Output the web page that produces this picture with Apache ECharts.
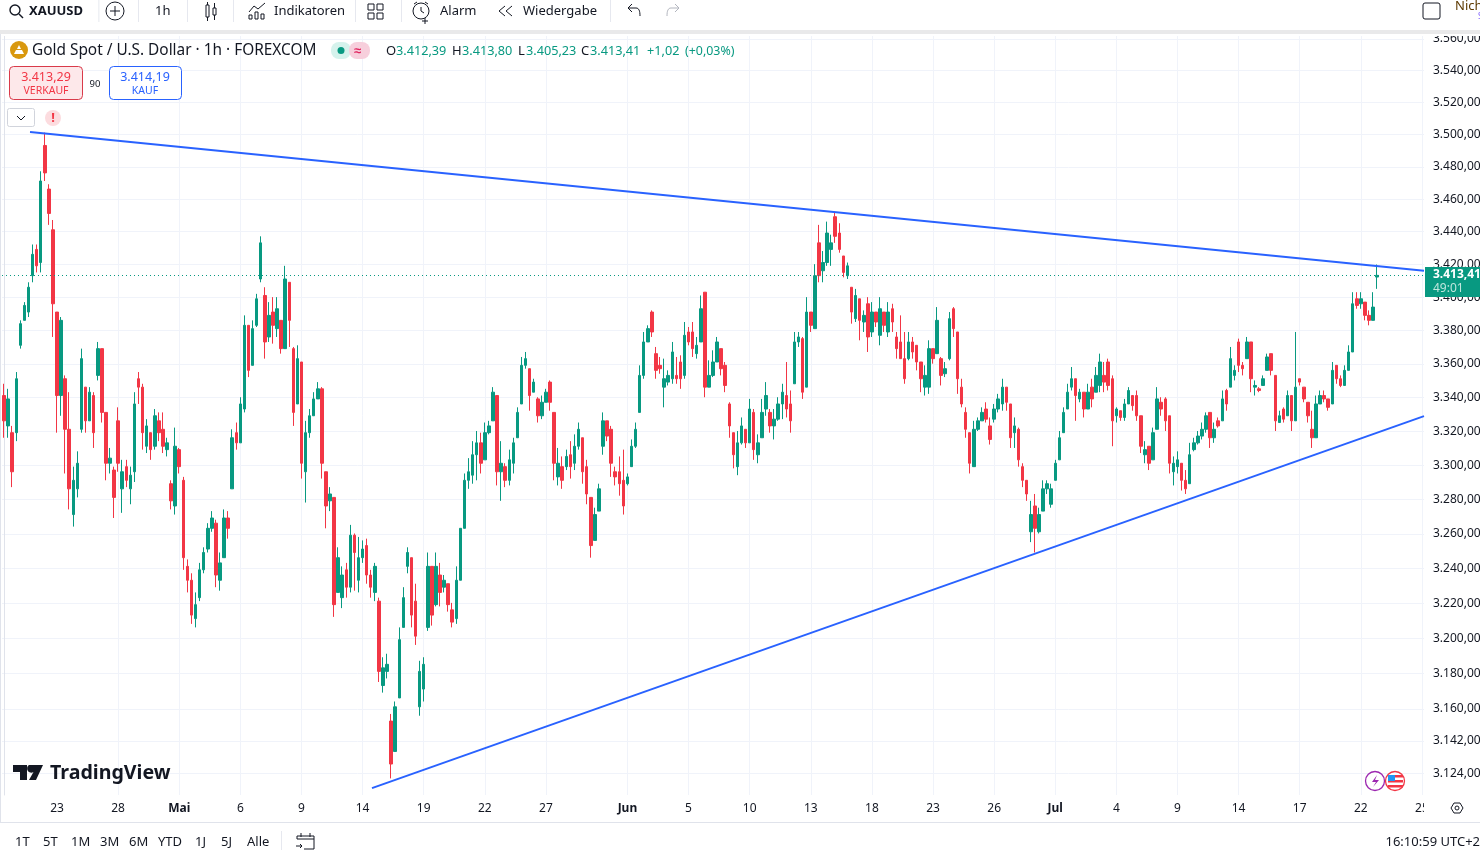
<!DOCTYPE html>
<html><head><meta charset="utf-8">
<style>html,body{margin:0;padding:0;background:#fff}#c{width:1480px;height:850px}</style>
<script src="https://cdn.jsdelivr.net/npm/echarts@6/dist/echarts.min.js"></script>
</head><body><div id="c"></div>
<script>
const opens=[
3340,3322,3318,3318,3370,3385,3390,3412,3428,3420,
3492,3465,3440,3390,3340,3350,3320,3270,3285,3320,
3345,3325,3340,3352,3368,3330,3300,3296,3325,3285,
3298,3285,3295,3350,3345,3310,3318,3310,3325,3320,
3308,3288,3275,3308,3290,3240,3232,3210,3222,3238,
3250,3262,3265,3232,3245,3268,3285,3318,3312,3332,
3382,3358,3382,3410,3400,3375,3390,3380,3385,3368,
3408,3368,3335,3360,3295,3318,3328,3338,3344,3295,
3278,3280,3225,3222,3238,3228,3258,3232,3245,3252,
3235,3225,3220,3172,3180,3152,3135,3165,3205,3240,
3245,3220,3160,3170,3205,3240,3218,3235,3228,3230,
3215,3210,3232,3262,3290,3293,3305,3312,3302,3318,
3325,3340,3295,3298,3290,3300,3315,3335,3358,3356,
3342,3338,3328,3336,3348,3330,3292,3298,3298,3305,
3300,3310,3315,3298,3280,3255,3272,3310,3325,3320,
3295,3295,3290,3288,3298,3310,3330,3352,3372,3390,
3365,3358,3345,3348,3350,3352,3360,3352,3378,3378,
3365,3372,3402,3345,3352,3360,3368,3358,3335,3318,
3298,3312,3320,3312,3330,3305,3315,3332,3330,3322,
3326,3335,3340,3335,3347,3372,3374,3345,3390,3380,
3432,3415,3420,3428,3448,3438,3424,3412,3405,3386,
3398,3384,3395,3378,3390,3376,3390,3378,3392,3375,
3372,3362,3362,3372,3370,3360,3345,3345,3368,3365,
3362,3353,3362,3392,3378,3345,3330,3318,3298,3320,
3325,3332,3322,3326,3332,3335,3345,3335,3318,3320,
3298,3290,3260,3275,3260,3272,3285,3276,3290,3302,
3318,3332,3345,3350,3338,3342,3332,3345,3342,3346,
3352,3360,3350,3328,3331,3327,3335,3340,3340,3328,
3305,3310,3302,3320,3336,3338,3328,3295,3298,3300,
3290,3288,3308,3312,3316,3320,3330,3315,3325,3325,
3343,3345,3352,3372,3358,3362,3372,3345,3344,3346,
3355,3365,3352,3324,3332,3328,3340,3325,3350,3345,
3336,3320,3315,3335,3340,3338,3335,3358,3350,3346,
3355,3366,3398,3395,3396,3388,3385,3412.39];
const closes=[
3325,3338,3295,3350,3383,3394,3405,3425,3418,3470,
3475,3450,3395,3340,3385,3320,3285,3290,3300,3362,
3325,3342,3318,3368,3330,3300,3303,3280,3300,3295,
3290,3293,3335,3345,3318,3322,3308,3328,3318,3310,
3312,3278,3310,3298,3245,3232,3212,3218,3238,3248,
3262,3268,3235,3242,3268,3262,3315,3312,3335,3382,
3355,3380,3398,3432,3372,3388,3382,3392,3368,3410,
3385,3330,3362,3300,3318,3328,3338,3344,3300,3275,
3282,3218,3245,3235,3228,3258,3248,3245,3250,3235,
3228,3240,3180,3182,3184,3128,3160,3198,3222,3248,
3212,3200,3180,3184,3240,3212,3240,3225,3232,3218,
3208,3232,3262,3290,3295,3305,3312,3300,3318,3322,
3342,3295,3300,3290,3302,3312,3330,3358,3362,3340,
3348,3328,3336,3342,3336,3300,3300,3290,3304,3298,
3310,3320,3295,3282,3252,3270,3285,3325,3316,3300,
3292,3288,3275,3292,3310,3320,3352,3372,3380,3378,
3355,3356,3350,3352,3366,3350,3350,3376,3372,3368,
3370,3392,3345,3352,3360,3372,3356,3346,3322,3305,
3312,3322,3312,3332,3308,3312,3330,3340,3322,3326,
3335,3342,3332,3325,3372,3375,3342,3390,3382,3412,
3412,3420,3438,3432,3436,3428,3414,3418,3390,3400,
3385,3388,3375,3390,3384,3392,3382,3390,3384,3368,
3362,3350,3372,3366,3360,3350,3352,3368,3362,3385,
3352,3356,3386,3380,3350,3335,3320,3300,3320,3325,
3330,3326,3314,3332,3338,3345,3336,3315,3322,3302,
3290,3282,3270,3262,3270,3285,3288,3285,3300,3315,
3330,3342,3350,3340,3342,3332,3342,3338,3352,3360,
3348,3346,3325,3332,3327,3335,3343,3334,3328,3310,
3308,3300,3318,3338,3332,3325,3300,3300,3302,3290,
3285,3305,3312,3316,3320,3328,3315,3320,3322,3338,
3335,3362,3355,3358,3356,3372,3350,3346,3343,3350,
3363,3355,3325,3328,3326,3340,3325,3345,3348,3338,
3328,3315,3335,3340,3338,3333,3355,3350,3346,3355,
3366,3395,3394,3398,3388,3385,3393,3413.41];
const lows=[
3315,3315,3286,3313,3368,3385,3387,3408,3414,3414,
3470,3443,3375,3318,3328,3294,3273,3263,3280,3318,
3318,3325,3309,3349,3324,3290,3294,3268,3295,3271,
3286,3276,3289,3335,3308,3306,3302,3308,3313,3306,
3304,3273,3270,3294,3238,3225,3207,3205,3220,3236,
3248,3260,3228,3226,3250,3256,3285,3308,3313,3330,
3351,3375,3381,3408,3362,3372,3371,3375,3365,3385,
3369,3322,3354,3291,3277,3315,3330,3338,3291,3262,
3272,3211,3225,3216,3222,3225,3226,3225,3242,3230,
3222,3220,3174,3168,3176,3120,3140,3179,3215,3236,
3205,3195,3155,3163,3203,3206,3217,3217,3225,3214,
3205,3207,3232,3274,3285,3288,3290,3294,3302,3317,
3333,3287,3278,3286,3287,3294,3322,3336,3356,3331,
3342,3324,3326,3338,3331,3290,3287,3285,3296,3291,
3296,3308,3288,3276,3245,3266,3276,3305,3313,3292,
3287,3281,3270,3287,3300,3309,3345,3350,3375,3375,
3350,3353,3333,3346,3347,3347,3344,3350,3370,3363,
3362,3376,3339,3349,3351,3363,3352,3342,3315,3297,
3293,3311,3309,3319,3302,3300,3324,3328,3318,3314,
3325,3326,3327,3318,3347,3369,3338,3375,3378,3381,
3408,3408,3418,3418,3432,3426,3411,3410,3383,3384,
3373,3378,3366,3375,3381,3370,3378,3375,3378,3362,
3362,3347,3361,3362,3355,3342,3340,3341,3359,3365,
3346,3351,3361,3375,3341,3333,3315,3294,3298,3319,
3325,3324,3311,3324,3330,3331,3331,3309,3309,3298,
3286,3278,3254,3248,3259,3274,3282,3274,3292,3302,
3324,3335,3343,3325,3336,3327,3333,3333,3345,3342,
3342,3343,3310,3324,3325,3325,3336,3331,3325,3306,
3300,3296,3313,3327,3328,3319,3294,3287,3294,3284,
3282,3288,3307,3311,3314,3318,3309,3312,3321,3325,
3331,3345,3349,3354,3352,3363,3342,3340,3342,3346,
3357,3352,3319,3324,3324,3336,3319,3342,3346,3336,
3324,3309,3321,3338,3336,3331,3342,3347,3345,3350,
3362,3367,3392,3392,3385,3382,3391,3405.23];
const highs=[
3347,3344,3322,3354,3385,3396,3408,3431,3431,3476,
3500,3468,3446,3388,3387,3352,3342,3298,3307,3368,
3338,3345,3342,3372,3364,3329,3309,3298,3333,3302,
3302,3298,3342,3354,3347,3326,3317,3332,3330,3330,
3315,3290,3321,3309,3292,3244,3236,3225,3242,3251,
3265,3272,3267,3248,3273,3272,3320,3324,3339,3388,
3369,3385,3401,3436,3405,3396,3399,3399,3378,3418,
3404,3369,3370,3355,3325,3332,3342,3348,3345,3291,
3286,3280,3251,3240,3242,3264,3259,3257,3255,3256,
3238,3242,3222,3188,3190,3156,3163,3205,3228,3251,
3244,3230,3186,3188,3248,3230,3248,3242,3235,3225,
3219,3240,3262,3294,3303,3313,3319,3318,3324,3325,
3345,3330,3313,3300,3308,3315,3333,3363,3366,3356,
3350,3339,3340,3344,3349,3327,3309,3304,3308,3313,
3317,3324,3313,3302,3274,3274,3288,3330,3322,3322,
3298,3304,3308,3294,3314,3324,3358,3378,3382,3391,
3369,3363,3362,3355,3372,3363,3364,3384,3381,3384,
3375,3400,3402,3361,3367,3375,3367,3360,3336,3317,
3319,3327,3319,3338,3332,3317,3338,3348,3332,3332,
3339,3347,3360,3343,3378,3378,3375,3399,3388,3419,
3443,3427,3445,3437,3451,3444,3422,3420,3405,3404,
3396,3391,3399,3396,3389,3399,3388,3396,3395,3378,
3388,3378,3378,3375,3370,3356,3358,3373,3367,3393,
3363,3360,3390,3393,3375,3350,3333,3317,3325,3327,
3333,3336,3327,3335,3341,3350,3344,3334,3327,3321,
3300,3290,3278,3282,3274,3290,3290,3288,3302,3319,
3333,3347,3357,3345,3344,3339,3347,3350,3357,3365,
3360,3362,3352,3333,3331,3338,3345,3338,3343,3327,
3313,3309,3321,3345,3339,3339,3328,3304,3307,3297,
3296,3312,3315,3319,3324,3330,3330,3324,3327,3343,
3344,3369,3358,3374,3360,3375,3366,3349,3345,3352,
3365,3365,3352,3331,3333,3343,3340,3378,3350,3344,
3336,3331,3340,3343,3343,3338,3360,3357,3352,3358,
3370,3402,3402,3402,3393,3391,3402,3420];
const priceTicks=[3560,3540,3520,3500,3480,3460,3440,3420,3400,3380,3360,3340,3320,3300,3280,3260,3240,3220,3200,3180,3160,3142,3124];
const dateSlots=[13,28,43,58,73,88,103,118,133,153,168,183,198,213,228,243,258,273,288,303,318,333,348];
const dateLabels=['23','28','Mai','6','9','14','19','22','27','Jun','5','10','13','18','23','26','Jul','4','9','14','17','22','25'];
const slotCount=349;
const lastPrice=3413.41;
const upperTrend=[[6.38,3501.6],[348.5,3416.2]];
const lowerTrend=[[90.3,3115.8],[348.5,3329]];
// The rounded values above were read against the label centres, which sit 2px above the grid lines.
const readingBias=1.2;

const UP='#089981',DOWN='#F23645',INK='#131722',FONT='"Noto Sans",sans-serif';
const categories=Array.from({length:slotCount},()=> '');
dateSlots.forEach((s,k)=>{categories[s]=dateLabels[k];});
const lastIdx=opens.length-1;
const ohlc=opens.map((o,i)=>{
  const b=i===lastIdx?0:readingBias;
  const c=closes[i]+b,op=o+b;
  return [op,c,Math.min(lows[i]+b,op,c),Math.max(highs[i]+b,op,c)];
});
const fmt=v=>{const s=Number(v).toFixed(2).replace('.',',');return s[0]+'.'+s.slice(1);};
const months=['Mai','Jun','Jul'];

let pathCount=0;
function T(x,y,text,o){return {type:'text',x,y:y+1,z:50,style:Object.assign({text,fill:INK,font:'13px '+FONT,textVerticalAlign:'middle'},o||{})};}
function R(x,y,w,h,fill,o){return {type:'rect',z:(o&&o.z)||40,shape:{x,y,width:w,height:h,r:(o&&o.r)||0},style:{fill,stroke:(o&&o.stroke)||null,lineWidth:(o&&o.lw)||1}};}
function C(cx,cy,r,fill,o){return {type:'circle',z:50,shape:{cx,cy,r},style:{fill,stroke:(o&&o.stroke)||null,lineWidth:(o&&o.lw)||1}};}
function P(d,o){const name='icon'+(pathCount++);echarts.graphic.registerShape(name,echarts.graphic.extendPath(d,{}));return {type:name,z:50,style:Object.assign({fill:'none',stroke:INK,lineWidth:1},o||{})};}
const G=[
 R(0,0,1480,30,'#fff'),R(0,30,1480,4,'#e9e9ea'),R(0,34,1480,2,'#fff'),
 R(1424,0,56,30,'#fff'),
 // toolbar
 C(15,10,5,'none',{stroke:INK,lw:1.4}),P('M19 14L23 18',{lineWidth:1.4}),
 T(29,10.5,'XAUUSD',{font:'bold 13px '+FONT}),
 C(115,11,9,'none',{stroke:INK}),P('M110 11H120M115 6V16'),
 R(98.5,0,0.8,22,'#e0e3eb'),R(138,0,0.8,22,'#e0e3eb'),R(187,0,0.8,22,'#e0e3eb'),R(233,0,0.8,22,'#e0e3eb'),R(355,0,0.8,22,'#e0e3eb'),R(401,0,0.8,22,'#e0e3eb'),R(610,0,0.8,22,'#e0e3eb'),
 T(155,10.5,'1h',{font:'13px '+FONT}),
 P('M206 5H209V17H206ZM207.5 2V5M207.5 17V21M213 8H216V15H213ZM214.5 3V8M214.5 15V20'),
 P('M249 12L254 6L258 9L265 3M249 19V15H252V19ZM255 19V12H258V19ZM261 19V14H264V19Z'),
 T(274,10.5,'Indikatoren'),
 P('M368 4H374V10H368ZM377 4H383V10H377ZM368 13H374V19H368ZM377 13H383V19H377Z'),
 C(421,11,8,'none',{stroke:INK}),P('M421 7V11L424 13M414 4L417 2M428 4L425 2M425 18V24M422 21H428'),
 T(440,10.5,'Alarm'),
 P('M505 6L499 11L505 16M512 6L506 11L512 16'),
 T(523,10.5,'Wiedergabe'),
 P('M628 8H636C639 8 640 11 640 16M628 8L632 4M628 8L632 12'),
 P('M679 8H671C668 8 667 11 667 16M679 8L675 4M679 8L675 12',{stroke:'#b2b5be'}),
 R(1423,3,17,16,'none',{stroke:INK,r:2,z:50}),
 T(1455,5,'Nich',{font:'13px '+FONT,fill:'#5d3a00'}),
 T(1478,16,'S',{font:'8px '+FONT,fill:'#7c5cff'}),
 // legend
 C(19,50,9,'#d9980e'),P('M14 54H24L22 50H16ZM17 49H21L19 45Z',{fill:'#fff',stroke:'none'}),
 T(32,50,'Gold Spot / U.S. Dollar · 1h · FOREXCOM',{font:'15.4px '+FONT}),
 R(331,42,20,17,'#d5f2ec',{r:8}),R(349,42,21,17,'#f7cfdc',{r:8}),C(341,50.5,3.5,UP),
 T(354,50,'≈',{font:'bold 13px '+FONT,fill:'#e0245e'}),
 T(386,50,'O',{}),T(396,50,'3.412,39',{fill:UP,font:'12.7px '+FONT}),
 T(452,50,'H',{}),T(462,50,'3.413,80',{fill:UP,font:'12.7px '+FONT}),
 T(518,50,'L',{}),T(526,50,'3.405,23',{fill:UP,font:'12.7px '+FONT}),
 T(581,50,'C',{}),T(590,50,'3.413,41',{fill:UP,font:'12.7px '+FONT}),
 T(647,50,'+1,02',{fill:UP,font:'12.7px '+FONT}),T(685,50,'(+0,03%)',{fill:UP,font:'12.4px '+FONT}),
 // order buttons
 R(9.5,66.5,73,33,'#fde8ea',{stroke:'#d93a4a',r:4}),
 T(46,76,'3.413,29',{fill:DOWN,textAlign:'center',font:'12.5px '+FONT}),
 T(46,90,'VERKAUF',{fill:DOWN,textAlign:'center',font:'10.5px '+FONT}),
 T(95,83,'90',{textAlign:'center',font:'9.5px '+FONT}),
 R(109.5,66.5,72,33,'#fff',{stroke:'#2962ff',r:4}),
 T(145,76,'3.414,19',{fill:'#2962ff',textAlign:'center',font:'12.5px '+FONT}),
 T(145,90,'KAUF',{fill:'#2962ff',textAlign:'center',font:'10.5px '+FONT}),
 R(7.5,108.5,27,18,'#fff',{stroke:'#d1d4dc',r:2}),P('M17 116L21 120L25 116'),
 C(53,118,8,'#fcdcdf'),T(53,117,'!',{fill:DOWN,textAlign:'center',font:'bold 13px '+FONT}),
 // logo
 P('M13 765H27V780H20V772H13ZM29 765H43L36 780H29L33.5 772A3.5 3.5 0 1 1 29 765Z',{fill:INK,stroke:'none'}),
 T(50,772,'TradingView',{font:'bold 19.6px '+FONT}),
 // last price box
 R(1425,267,55,30,UP,{z:60}),
 Object.assign(T(1433,274,fmt(lastPrice),{fill:'#fff',font:'bold 12px '+FONT}),{z:61}),
 Object.assign(T(1433,288,'49:01',{fill:'#bfe6dd',font:'12px '+FONT}),{z:61}),
 // news icons
 C(1375,781,9.5,'#fff',{stroke:'#9c27b0',lw:1.3}),P('M1377 775L1372 782H1376L1373 787L1379 780H1375Z',{fill:'#9c27b0',stroke:'none'}),
 C(1395,781,9.5,'#fff',{stroke:'#f23645',lw:1.3}),
 R(1388,775,15,2.5,'#f23645',{z:51}),R(1388,780,15,2.5,'#f23645',{z:51}),R(1388,785,15,2.5,'#f23645',{z:51}),R(1388,775,7,6,'#2196f3',{z:52}),
 // bottom
 R(1424,798,20,20,'#fff',{z:45}),
 R(0,822,1480,1,'#e0e3eb'),R(0,34,1,788,'#e0e3eb'),
 P('M1451 808L1454 803H1460L1463 808L1460 813H1454ZM1459 808A2 2 0 1 1 1455 808A2 2 0 1 1 1459 808Z'),
 T(15,841,'1T'),T(43,841,'5T'),T(71,841,'1M'),T(100,841,'3M'),T(129,841,'6M'),T(158,841,'YTD'),T(195,841,'1J'),T(221,841,'5J'),T(247,841,'Alle'),
 R(281,831,0.8,19,'#e0e3eb'),
 P('M297 839V836H314V849H304M297 839H314M301 833V837M310 833V837M296 846H302M300 844L302 846L300 848'),
 T(1480,841,'16:10:59 UTC+2',{textAlign:'right'})
];
const chart=echarts.init(document.getElementById('c'),null,{renderer:'canvas'});
chart.setOption({
 animation:false,backgroundColor:'#fff',textStyle:{fontFamily:FONT},
 grid:{left:2,right:56,top:36,bottom:55,containLabel:false,outerBoundsMode:'none'},
 xAxis:[{type:'category',data:categories,boundaryGap:true,
   axisLine:{show:false},axisTick:{show:false,alignWithLabel:true},
   axisLabel:{interval:0,margin:8,color:INK,fontSize:12,fontFamily:FONT,hideOverlap:false,showMinLabel:true,showMaxLabel:true,
     formatter:v=>months.includes(v)?'{b|'+v+'}':v,rich:{b:{fontWeight:'bold',fontSize:12,color:INK,fontFamily:FONT}}},
   splitLine:{show:true,showMinLine:false,alignWithLabel:true,interval:(i,v)=>v!=='',lineStyle:{color:'#f0f3fa',width:1}}},
  {type:'value',show:false,min:-0.5,max:slotCount-0.5,splitLine:{show:false},axisLabel:{show:false}}],
 yAxis:[{type:'log',logBase:10,position:'right',min:3112,max:3561.9,
   axisLine:{show:true,lineStyle:{color:'#e0e3eb'}},
   axisTick:{show:false,customValues:priceTicks},
   axisLabel:{customValues:priceTicks,margin:9,color:INK,fontSize:12,fontFamily:FONT,formatter:fmt},
   splitLine:{show:true,lineStyle:{color:'#f0f3fa',width:1}}}],
 series:[
  {type:'candlestick',xAxisIndex:0,yAxisIndex:0,data:ohlc,barWidth:3,large:false,progressive:0,
   itemStyle:{color:UP,color0:DOWN,borderColor:UP,borderColor0:DOWN,borderWidth:1},
   markLine:{silent:true,symbol:'none',animation:false,label:{show:false},
     lineStyle:{color:UP,type:[1,3],width:1},data:[{yAxis:lastPrice}]}},
  {type:'line',xAxisIndex:1,yAxisIndex:0,data:upperTrend,symbol:'none',lineStyle:{color:'#2962ff',width:2},z:5},
  {type:'line',xAxisIndex:1,yAxisIndex:0,data:lowerTrend,symbol:'none',lineStyle:{color:'#2962ff',width:2},z:5}
 ],
 graphic:{elements:G}
});
</script></body></html>
